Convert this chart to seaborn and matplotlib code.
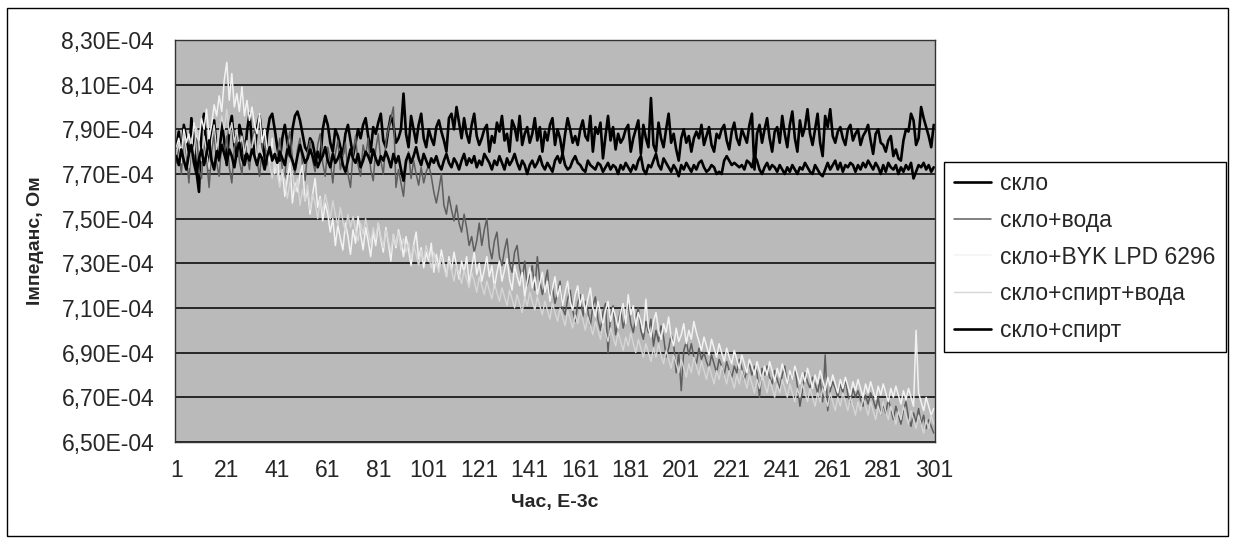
import matplotlib
matplotlib.use('Agg')
import matplotlib.pyplot as plt
import matplotlib.ticker as mticker
from matplotlib.patches import Rectangle
import seaborn as sns
import pandas as pd

# Значення імпедансу у мкОм (1E-06 Ом), по 301 точці на серію
sklo_spyrt_top = [
    782, 789, 778, 792, 786, 776, 795, 784, 771, 762,
    790, 797, 780, 772, 788, 794, 781, 776, 793, 785,
    774, 790, 796, 783, 778, 792, 787, 775, 789, 797,
    784, 779, 791, 796, 786, 774, 788, 795, 797, 790,
    782, 776, 786, 792, 784, 778, 790, 796, 798, 794,
    788, 782, 780, 786, 784, 778, 773, 776, 790, 796,
    792, 784, 780, 790, 787, 782, 779, 788, 792, 785,
    778, 784, 790, 786, 792, 795, 787, 780, 791, 788,
    793, 797, 785, 782, 790, 796, 792, 784, 786, 790,
    806, 788, 782, 796, 790, 784, 792, 797, 786, 782,
    790, 786, 783, 791, 794, 789, 785, 780, 795, 797,
    790, 800, 793, 786, 795, 788, 784, 792, 797, 787,
    783, 786, 790, 792, 780, 787, 784, 793, 789, 796,
    785, 788, 780, 794, 791, 785, 796, 783, 788, 791,
    784, 788, 795, 785, 791, 780, 789, 785, 792, 795,
    783, 790, 786, 779, 788, 795, 790, 784, 787, 783,
    790, 794, 787, 785, 796, 780, 791, 788, 793, 777,
    787, 796, 785, 791, 781, 788, 784, 786, 790, 792,
    780, 786, 790, 794, 779, 792, 786, 782, 804, 783,
    780, 793, 786, 782, 790, 797, 784, 788, 781, 776,
    786, 790, 784, 787, 780, 786, 789, 786, 792, 783,
    787, 791, 783, 780, 788, 786, 790, 792, 785, 781,
    789, 793, 786, 783, 790, 787, 784, 792, 797, 772,
    788, 792, 784, 790, 795, 786, 780, 789, 791, 784,
    796, 788, 782, 792, 798, 786, 780, 794, 787, 791,
    799, 788, 783, 790, 797, 784, 778, 796, 791, 799,
    787, 784, 789, 791, 786, 783, 790, 792, 785, 788,
    790, 783, 787, 789, 792, 785, 779, 788, 790, 784,
    783, 780, 785, 787, 778, 781, 777, 776, 785, 790,
    789, 797, 794, 783, 786, 800, 795, 791, 787, 782,
    792,
]

sklo = [
    778, 774, 781, 776, 772, 779, 783, 775, 770, 777,
    781, 774, 779, 785, 776, 772, 780, 777, 783, 779,
    775, 781, 778, 773, 780, 784, 777, 774, 779, 776,
    781, 778, 774, 779, 777, 772, 778, 782, 776, 779,
    775, 780, 777, 774, 781, 779, 776, 772, 778, 783,
    779, 775, 777, 781, 778, 774, 780, 776, 778, 782,
    776, 773, 779, 775, 777, 780, 774, 771, 776, 781,
    777, 775, 779, 773, 776, 780, 778, 775, 781, 777,
    774, 778, 776, 780, 777, 773, 779, 775, 778, 772,
    767, 776, 779, 775, 778, 782, 777, 774, 779, 776,
    773, 777, 775, 778, 774, 772, 776, 779, 775, 773,
    777, 775, 772, 776, 779, 774, 777, 775, 778, 773,
    776, 774, 779, 777, 775, 772, 776, 774, 778, 775,
    772, 777, 774, 776, 779, 775, 772, 776, 774, 770,
    774, 776, 773, 775, 778, 774, 772, 775, 773, 771,
    776, 778, 775, 779, 774, 772, 773, 776, 778, 775,
    774, 772, 771, 776, 774, 773, 772, 775, 774, 771,
    773, 775, 772, 774, 773, 770, 774, 772, 775, 773,
    771, 774, 772, 776, 778, 772, 770, 774, 773, 776,
    779, 774, 772, 777, 775, 773, 771, 774, 772, 769,
    774, 772, 775, 773, 771, 774, 772, 775, 776, 773,
    771, 772, 774, 773, 770, 771, 770, 776, 778, 776,
    774, 775, 774, 773, 774, 772, 776, 775, 773, 778,
    776, 772, 770, 773, 775, 772, 774, 773, 771, 774,
    772, 770, 773, 771, 774, 772, 770, 773, 772, 775,
    773, 771, 770, 774, 772, 770, 769, 772, 775, 772,
    774, 776, 772, 775, 771, 774, 773, 775, 774, 771,
    774, 772, 775, 773, 776, 774, 772, 775, 773, 770,
    774, 771, 775, 773, 772, 774, 770, 773, 771, 774,
    772, 775, 768, 771, 774, 773, 775, 772, 774, 771,
    773,
]

sklo_voda = [
    775, 783, 770, 787, 779, 766, 784, 776, 790, 772,
    768, 785, 777, 764, 780, 788, 775, 769, 784, 779,
    787, 773, 766, 781, 789, 776, 770, 785, 779, 772,
    784, 790, 776, 769, 782, 787, 774, 779, 785, 771,
    778, 786, 772, 768, 783, 789, 777, 770, 781, 786,
    774, 767, 780, 785, 776, 771, 783, 788, 775, 769,
    782, 776, 766, 779, 785, 772, 778, 784, 770, 764,
    779, 787, 774, 769, 783, 778, 786, 772, 767, 781,
    788, 776, 770, 784, 790, 795, 800, 764, 772, 766,
    760, 774, 780, 768, 776, 770, 765, 773, 766, 771,
    774, 769, 762, 757, 763, 770, 756, 752, 760, 754,
    749, 756, 748, 744, 752, 746, 738, 742, 735, 740,
    748, 738, 745, 750, 737, 732, 740, 744, 733, 729,
    736, 741, 730, 726, 735, 738, 728, 723, 731, 720,
    725, 729, 718, 733, 722, 716, 721, 727, 714, 719,
    712, 717, 722, 710, 707, 714, 718, 709, 704, 712,
    716, 706, 713, 709, 702, 711, 715, 705, 700, 708,
    712, 690, 707, 711, 698, 704, 709, 701, 706, 712,
    703, 699, 706, 710, 700, 696, 704, 699, 705, 693,
    700, 695, 702, 697, 688, 692, 698, 694, 681, 690,
    673, 691, 695, 689, 694, 688, 685, 692, 687, 690,
    686, 683, 689, 685, 681, 687, 684, 680, 686, 682,
    679, 684, 681, 687, 683, 678, 682, 685, 680, 684,
    681, 670, 683, 680, 684, 679, 676, 682, 678, 674,
    680, 684, 676, 681, 678, 683, 675, 666, 673, 681,
    677, 674, 679, 676, 672, 678, 668, 689, 664, 673,
    677, 674, 670, 676, 672, 678, 671, 668, 674, 670,
    673, 669, 666, 671, 667, 672, 669, 665, 670, 662,
    667, 663, 669, 665, 660, 666, 662, 658, 664, 668,
    661, 657, 663, 659, 665, 658, 662, 656, 660, 657,
    654,
]

sklo_byk = [
    782, 786, 779, 790, 784, 788, 781, 793, 787, 785,
    795, 790, 799, 786, 792, 801, 796, 805, 798, 812,
    820, 803, 815, 800, 806, 798, 809, 796, 803, 794,
    800, 792, 788, 797, 784, 790, 781, 775, 786, 770,
    778, 765, 772, 760, 768, 775, 757, 766, 762, 770,
    774, 758, 763, 752, 761, 768, 755, 760, 749, 757,
    752, 744, 750, 738, 747, 741, 736, 748, 742, 734,
    745, 739, 751, 743, 736, 746, 740, 733, 744, 738,
    748, 741, 735, 746, 739, 731, 743, 737, 745, 740,
    733, 742, 736, 729, 738, 744, 732, 737, 728, 735,
    731, 739, 726, 734, 728, 736, 730, 724, 733, 727,
    735, 729, 723, 731, 726, 733, 721, 728, 735, 725,
    730, 722, 727, 733, 724, 729, 719, 726, 731, 722,
    727, 732, 723, 718, 729, 724, 720, 726, 715, 722,
    728, 719, 724, 716, 721, 726, 717, 722, 713, 719,
    724, 715, 720, 711, 717, 722, 713, 709, 716, 720,
    711, 716, 708, 714, 719, 710, 706, 713, 708, 702,
    709, 713, 704, 710, 706, 701, 708, 712, 703, 716,
    707, 711, 702, 708, 704, 699, 714, 701, 697, 704,
    708, 700, 696, 703, 699, 706, 697, 693, 701, 695,
    698, 703, 694, 700, 696, 704, 699, 695, 691, 697,
    693, 689, 696, 692, 688, 694, 690, 686, 692, 688,
    685, 691, 687, 683, 689, 685, 681, 687, 684, 680,
    686, 682, 678, 684, 680, 686, 682, 677, 683, 679,
    685, 681, 676, 682, 678, 684, 680, 676, 681, 677,
    683, 679, 674, 680, 676, 682, 678, 673, 679, 675,
    680, 676, 672, 678, 674, 679, 675, 671, 677, 673,
    678, 674, 670, 676, 672, 677, 673, 669, 675, 671,
    676, 672, 668, 674, 670, 675, 671, 667, 673, 669,
    674, 670, 666, 700, 672, 668, 664, 670, 666, 662,
    665,
]

sklo_spyrt_voda = [
    779, 784, 775, 788, 781, 773, 786, 779, 791, 783,
    776, 787, 780, 772, 785, 792, 781, 788, 796, 790,
    799, 788, 793, 784, 790, 781, 787, 779, 785, 776,
    782, 788, 775, 783, 779, 771, 780, 774, 768, 776,
    770, 764, 772, 767, 759, 766, 771, 762, 768, 756,
    763, 758, 765, 754, 761, 757, 750, 759, 753, 761,
    756, 750, 758, 752, 747, 755, 749, 744, 752, 746,
    751, 745, 740, 748, 743, 750, 744, 739, 746, 741,
    748, 742, 737, 745, 740, 735, 743, 738, 744, 736,
    741, 735, 739, 732, 738, 734, 729, 736, 731, 738,
    733, 728, 735, 730, 726, 733, 728, 724, 731, 727,
    722, 729, 725, 721, 727, 723, 719, 726, 722, 717,
    724, 720, 716, 722, 718, 714, 721, 717, 713, 719,
    715, 711, 718, 714, 710, 716, 712, 708, 715, 711,
    717, 713, 709, 715, 711, 707, 713, 709, 705, 712,
    708, 704, 710, 706, 702, 709, 705, 701, 707, 703,
    709, 705, 700, 706, 702, 698, 704, 700, 696, 703,
    699, 695, 701, 697, 693, 699, 695, 691, 697, 693,
    699, 694, 690, 696, 692, 688, 694, 690, 686, 692,
    688, 694, 689, 685, 691, 687, 683, 689, 685, 681,
    687, 683, 679, 685, 681, 688, 684, 680, 686, 682,
    678, 684, 680, 676, 682, 678, 684, 680, 676, 682,
    678, 674, 680, 676, 682, 678, 674, 680, 676, 672,
    678, 674, 680, 676, 672, 678, 674, 670, 676, 672,
    678, 674, 670, 676, 672, 668, 674, 670, 676, 672,
    668, 674, 670, 666, 672, 668, 674, 670, 666, 672,
    668, 664, 670, 666, 672, 668, 664, 670, 666, 662,
    668, 664, 670, 666, 662, 668, 664, 660, 666, 662,
    668, 664, 660, 666, 662, 658, 664, 660, 666, 662,
    658, 664, 660, 656, 662, 658, 654, 660, 656, 662,
    658,
]

chas = list(range(1, 302))
nazvy = ['скло', 'скло+вода', 'скло+BYK LPD 6296', 'скло+спирт+вода', 'скло+спирт']
kolory = ['black', '#5e5e5e', '#f2f2f2', '#d6d6d6', 'black']
tovshchyny = [1.9, 1.1, 1.1, 1.0, 1.9]
serii = [sklo_spyrt_top, sklo_voda, sklo_byk, sklo_spyrt_voda, sklo]

sns.set_style('white')
plt.rcParams['font.family'] = ['Liberation Sans', 'DejaVu Sans']

fig = plt.figure(figsize=(12.34, 5.44), dpi=100)
ax = fig.add_axes([175 / 1234, 1 - 442 / 544, 760 / 1234, 402 / 544])
ax.set_facecolor('#bababa')

for nazva, kolir, lw, dani in zip(nazvy, kolory, tovshchyny, serii):
    df = pd.DataFrame({'chas': chas, 'z': [v * 1e-6 for v in dani]})
    sns.lineplot(data=df, x='chas', y='z', color=kolir, linewidth=lw, label=nazva, ax=ax)

# Осі
ax.set_xlim(0.5, 301.5)
ax.set_ylim(6.5e-4, 8.3e-4)
ax.set_yticks([6.5e-4 + 0.2e-4 * k for k in range(10)])
ax.yaxis.set_major_formatter(mticker.FuncFormatter(lambda y, p: f'{y:.2E}'.replace('.', ',')))
ax.set_xticks(list(range(1, 302, 20)))
ax.xaxis.set_minor_locator(mticker.MultipleLocator(1))
ax.tick_params(axis='both', which='major', labelsize=16.5, length=6, width=0.9, color='black', direction='out')
ax.tick_params(axis='x', which='minor', length=6, width=0.6, color='black', direction='out')
ax.tick_params(axis='x', which='major', pad=6)
ax.tick_params(axis='y', which='major', pad=9)
ax.grid(axis='y', color='black', linewidth=1.1)
ax.set_axisbelow(True)
for s in ax.spines.values():
    s.set_color('#333333')
    s.set_linewidth(1)

ax.set_xlabel('Час, Е-3с', fontsize=14, fontweight='bold')
ax.set_ylabel('Імпеданс, Ом', fontsize=14, fontweight='bold')
ax.xaxis.set_label_coords(0.5, -0.13)
ax.yaxis.set_label_coords(-0.172, 0.5)

leg = ax.legend(loc='center left', bbox_to_anchor=(944 / 1234, 1 - 257 / 544),
                bbox_transform=fig.transFigure, fontsize=16.5, frameon=True, fancybox=False,
                edgecolor='black', framealpha=1, borderaxespad=0, borderpad=0.45,
                handlelength=1.6, handletextpad=0.4, labelspacing=0.6)
leg.get_frame().set_linewidth(1)

# Рамка області діаграми
fig.patches.append(Rectangle((7 / 1234, 8 / 544), 1221 / 1234, 528 / 544, transform=fig.transFigure,
                             fill=False, edgecolor='black', linewidth=1))

fig.savefig('out.png', dpi=100)
